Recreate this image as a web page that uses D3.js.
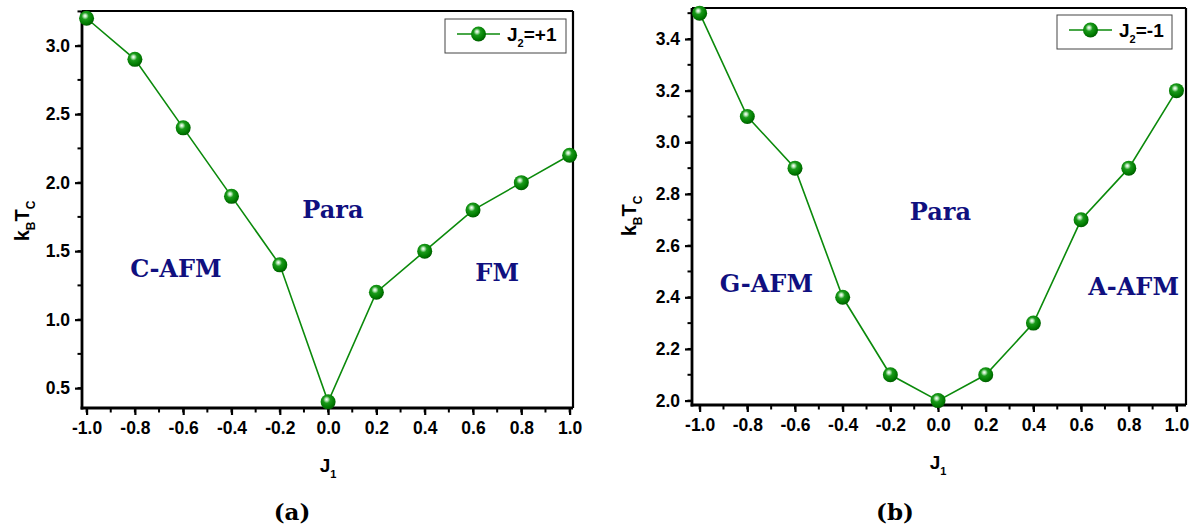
<!DOCTYPE html>
<html>
<head>
<meta charset="utf-8">
<script src="https://cdn.jsdelivr.net/npm/d3@7"></script>
<style>
  html, body { margin: 0; padding: 0; background: #fff; }
  svg { display: block; }
</style>
</head>
<body>
<svg id="chart" width="1198" height="529"></svg>
<script>
// Exchange coupling J1 (shared x values)
const j1Values = [-1.0, -0.8, -0.6, -0.4, -0.2, 0.0, 0.2, 0.4, 0.6, 0.8, 1.0];
// Critical temperature k_B T_C for J2 = +1
const tcJ2Plus = [3.2, 2.9, 2.4, 1.9, 1.4, 0.4, 1.2, 1.5, 1.8, 2.0, 2.2];
// Critical temperature k_B T_C for J2 = -1
const tcJ2Minus = [3.5, 3.1, 2.9, 2.4, 2.1, 2.0, 2.1, 2.3, 2.7, 2.9, 3.2];
// Tick labels
const xTicks = [-1.0, -0.8, -0.6, -0.4, -0.2, 0.0, 0.2, 0.4, 0.6, 0.8, 1.0];
const yTicksA = [0.5, 1.0, 1.5, 2.0, 2.5, 3.0];
const yTicksB = [2.0, 2.2, 2.4, 2.6, 2.8, 3.0, 3.2, 3.4];
// Phase region labels (placed in data coordinates, baseline)
const phasesA = [
  { name: "Para", x: 0.02, y: 1.74 },
  { name: "C-AFM", x: -0.63, y: 1.31 },
  { name: "FM", x: 0.70, y: 1.28 }
];
const phasesB = [
  { name: "Para", x: 0.01, y: 2.70 },
  { name: "G-AFM", x: -0.72, y: 2.42 },
  { name: "A-AFM", x: 0.82, y: 2.41 }
];

const svg = d3.select("#chart");
const GREEN = "#0b8a0b";

// Shaded sphere marker
const defs = svg.append("defs");
const grad = defs.append("radialGradient")
  .attr("id", "sphere").attr("cx", "42%").attr("cy", "38%").attr("r", "62%")
  .attr("fx", "40%").attr("fy", "34%");
grad.append("stop").attr("offset", "0%").attr("stop-color", "#ffffff");
grad.append("stop").attr("offset", "16%").attr("stop-color", "#b5e6b5");
grad.append("stop").attr("offset", "38%").attr("stop-color", "#1a9a1a");
grad.append("stop").attr("offset", "80%").attr("stop-color", "#007a00");
grad.append("stop").attr("offset", "100%").attr("stop-color", "#005c00");

const SANS = "'Liberation Sans', Arial, sans-serif";

function drawPanel(cfg) {
  const { left, right, top, bottom, xDomain, yDomain, values, yTicks, yMinorStep,
          yFormat, phases, legendLabel, legendBox, yTitleX, yTitleY, xTitleY, caption, captionX } = cfg;
  const g = svg.append("g");
  const x = d3.scaleLinear().domain(xDomain).range([left, right]);
  const y = d3.scaleLinear().domain(yDomain).range([bottom, top]);

  // Frame: top and right edges
  g.append("line").attr("x1", left).attr("x2", right).attr("y1", top).attr("y2", top)
    .attr("stroke", "#000").attr("stroke-width", 2.2);
  g.append("line").attr("x1", right).attr("x2", right).attr("y1", top).attr("y2", bottom)
    .attr("stroke", "#000").attr("stroke-width", 2.2);

  // Minor ticks
  const xMinor = d3.range(-1.0, 1.0001, 0.1).filter(v => v >= xDomain[0] && v <= xDomain[1]);
  g.selectAll(".xminor").data(xMinor).join("line")
    .attr("x1", d => x(d)).attr("x2", d => x(d))
    .attr("y1", bottom).attr("y2", bottom + 4.5)
    .attr("stroke", "#000").attr("stroke-width", 2);
  const yMinor = d3.range(yTicks[0] - yMinorStep * 4, yDomain[1], yMinorStep)
    .filter(v => v >= yDomain[0] && v <= yDomain[1]);
  g.selectAll(".yminor").data(yMinor).join("line")
    .attr("x1", left).attr("x2", left - 4.5)
    .attr("y1", d => y(d)).attr("y2", d => y(d))
    .attr("stroke", "#000").attr("stroke-width", 2);

  // Axes
  const xAxis = g.append("g").attr("transform", `translate(0,${bottom})`)
    .call(d3.axisBottom(x).tickValues(xTicks).tickFormat(d3.format(".1f")).tickSizeInner(7).tickSizeOuter(0).tickPadding(7));
  const yAxis = g.append("g").attr("transform", `translate(${left},0)`)
    .call(d3.axisLeft(y).tickValues(yTicks).tickFormat(yFormat).tickSizeInner(7).tickSizeOuter(0).tickPadding(5));
  [xAxis, yAxis].forEach(a => {
    a.select(".domain").attr("stroke", "#000").attr("stroke-width", 2.8);
    a.selectAll(".tick line").attr("stroke", "#000").attr("stroke-width", 2.2);
    a.selectAll(".tick text")
      .attr("fill", "#000")
      .style("font-family", SANS)
      .style("font-weight", "bold")
      .style("font-size", "17.5px");
  });
  xAxis.selectAll(".tick text").text(d => d3.format(".1f")(d).replace("−", "-"));
  yAxis.selectAll(".tick text").text(d => yFormat(d).replace("−", "-"));
  xAxis.select(".domain").attr("d", `M${left - 1.4},0H${right}`);
  yAxis.select(".domain").attr("d", `M0,${top}V${bottom + 1.4}`);

  // Phase labels
  g.selectAll(".phase").data(phases).join("text")
    .attr("x", d => x(d.x)).attr("y", d => y(d.y))
    .attr("text-anchor", "middle")
    .attr("fill", "#10107f")
    .style("font-family", "'DejaVu Serif', serif")
    .style("font-weight", "bold")
    .style("font-size", "24px")
    .text(d => d.name);

  // Series line and markers
  const pts = j1Values.map((v, i) => [v, values[i]]);
  g.append("path").datum(pts)
    .attr("d", d3.line().x(d => x(d[0])).y(d => y(d[1])))
    .attr("fill", "none").attr("stroke", GREEN).attr("stroke-width", 1.6);
  g.selectAll(".pt").data(pts).join("circle")
    .attr("cx", d => x(d[0])).attr("cy", d => y(d[1])).attr("r", 7.5)
    .attr("fill", "url(#sphere)");

  // Legend
  const lg = g.append("g");
  lg.append("rect").attr("x", legendBox[0]).attr("y", legendBox[1])
    .attr("width", legendBox[2]).attr("height", legendBox[3])
    .attr("fill", "#fff").attr("stroke", "#444").attr("stroke-width", 1);
  const ly = legendBox[1] + legendBox[3] / 2 - 2;
  const lx = legendBox[0] + 12;
  lg.append("line").attr("x1", lx).attr("x2", lx + 43).attr("y1", ly).attr("y2", ly)
    .attr("stroke", GREEN).attr("stroke-width", 1.6);
  lg.append("circle").attr("cx", lx + 21.5).attr("cy", ly).attr("r", 7.5).attr("fill", "url(#sphere)");
  const lt = lg.append("text").attr("x", lx + 50).attr("y", ly + 7)
    .attr("fill", "#000")
    .style("font-family", SANS)
    .style("font-weight", "bold").style("font-size", "19px");
  lt.append("tspan").text("J");
  lt.append("tspan").attr("dy", 6).style("font-size", "11px").text("2");
  lt.append("tspan").attr("dy", -6).text(legendLabel);

  // Axis titles
  const yt = g.append("text")
    .attr("transform", `translate(${yTitleX},${yTitleY}) rotate(-90)`)
    .attr("text-anchor", "middle")
    .attr("fill", "#000")
    .style("font-family", SANS)
    .style("font-weight", "bold").style("font-size", "20px");
  yt.append("tspan").text("k");
  yt.append("tspan").attr("dy", 6).style("font-size", "12px").text("B");
  yt.append("tspan").attr("dy", -6).text("T");
  yt.append("tspan").attr("dy", 6).style("font-size", "12px").text("C");

  const xt = g.append("text")
    .attr("x", x(0)).attr("y", xTitleY)
    .attr("text-anchor", "middle")
    .attr("fill", "#000")
    .style("font-family", SANS)
    .style("font-weight", "bold").style("font-size", "19px");
  xt.append("tspan").text("J");
  xt.append("tspan").attr("dy", 6).style("font-size", "11px").text("1");

  // Panel caption
  svg.append("text").attr("x", captionX).attr("y", 520)
    .attr("text-anchor", "middle")
    .attr("fill", "#000")
    .style("font-family", "'DejaVu Serif', serif")
    .style("font-weight", "bold")
    .style("font-size", "23px")
    .text(caption);
}

drawPanel({
  left: 82, right: 573, top: 11, bottom: 408,
  xDomain: [-1.019, 1.014], yDomain: [0.355, 3.253],
  values: tcJ2Plus, yTicks: yTicksA, yMinorStep: 0.25, yFormat: d3.format(".1f"),
  phases: phasesA, legendLabel: "=+1", legendBox: [445, 19, 121, 34],
  yTitleX: 29, yTitleY: 221, xTitleY: 472, caption: "(a)", captionX: 292
});

drawPanel({
  left: 692, right: 1186, top: 8, bottom: 405,
  xDomain: [-1.032, 1.04], yDomain: [1.983, 3.52],
  values: tcJ2Minus, yTicks: yTicksB, yMinorStep: 0.1, yFormat: d3.format(".1f"),
  phases: phasesB, legendLabel: "=-1", legendBox: [1057, 15, 115, 34],
  yTitleX: 636, yTitleY: 216, xTitleY: 469, caption: "(b)", captionX: 895
});
</script>
</body>
</html>
